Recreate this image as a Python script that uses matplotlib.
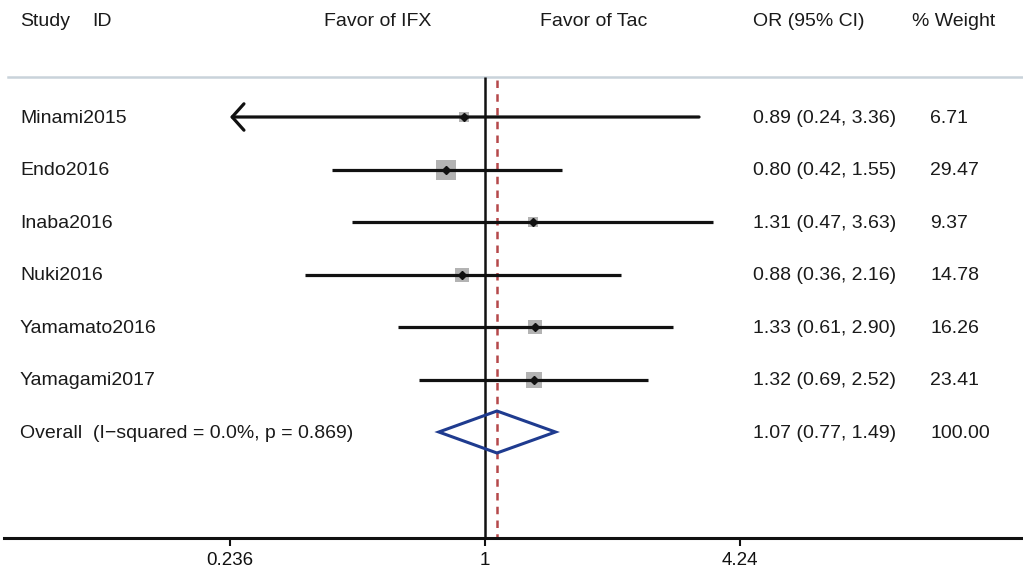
import numpy as np
import matplotlib
matplotlib.use("Agg")
import matplotlib.pyplot as plt
from matplotlib.patches import Polygon
import matplotlib.transforms as mtransforms

# ---- data ----
studies = ["Minami2015", "Endo2016", "Inaba2016", "Nuki2016", "Yamamato2016", "Yamagami2017"]
or_est = [0.89, 0.80, 1.31, 0.88, 1.33, 1.32]
ci_low = [0.24, 0.42, 0.47, 0.36, 0.61, 0.69]
ci_high = [3.36, 1.55, 3.63, 2.16, 2.90, 2.52]
weights = [6.71, 29.47, 9.37, 14.78, 16.26, 23.41]
truncated_low = [True, False, False, False, False, False]
overall_label = "Overall  (I\u2212squared = 0.0%, p = 0.869)"
overall_est, overall_low, overall_high, overall_weight = 1.07, 0.77, 1.49, 100.00
xticks = [0.236, 1, 4.24]
xtick_labels = ["0.236", "1", "4.24"]

plt.rcParams['font.family'] = ['Liberation Sans', 'DejaVu Sans']
TXT = "#1a1a1a"
FS = 14

W, H = 1023, 573
fig = plt.figure(figsize=(W / 100, H / 100), dpi=100)
fig.patch.set_facecolor("white")
ax = fig.add_axes([4 / W, 35 / H, 1 - 4 / W, 538 / H])
ax.set_xscale("log")
pxu = 176.6  # pixels per ln unit
ax.set_xlim(np.exp((4 - 485) / pxu), np.exp((1023 - 485) / pxu))
row_h = 52.5
def ypix(p):
    return (p - 117) / row_h
ax.set_ylim(ypix(538), ypix(0))
ax.set_facecolor("white")
for s in ["top", "left", "right"]:
    ax.spines[s].set_visible(False)
ax.spines["bottom"].set_linewidth(2.2)
ax.spines["bottom"].set_color("#111111")
ax.set_yticks([])
ax.set_xticks(xticks)
ax.set_xticklabels(xtick_labels, fontsize=13.5, color=TXT)
ax.xaxis.set_minor_locator(matplotlib.ticker.NullLocator())
ax.tick_params(axis="x", direction="out", length=6, width=1.5, pad=4, colors="#111111")

blend = mtransforms.blended_transform_factory(ax.transAxes, ax.transData)
def fx(p):
    return (p - 4) / (W - 4)

# header
hy = ypix(22)
ax.text(fx(20), hy, "Study", transform=blend, fontsize=FS, color=TXT, va="center")
ax.text(fx(92), hy, "ID", transform=blend, fontsize=FS, color=TXT, va="center")
ax.text(fx(378), hy, "Favor of IFX", transform=blend, fontsize=FS, color=TXT, va="center", ha="center")
ax.text(fx(594), hy, "Favor of Tac", transform=blend, fontsize=FS, color=TXT, va="center", ha="center")
ax.text(fx(753), hy, "OR (95% CI)", transform=blend, fontsize=FS, color=TXT, va="center")
ax.text(fx(912), hy, "% Weight", transform=blend, fontsize=FS, color=TXT, va="center")
ax.axhline(ypix(77), xmin=fx(8), xmax=1, color="#c9d3da", lw=1.8)

# reference lines
ax.vlines(1, ypix(77), ypix(538), color="#111111", lw=1.8, zorder=2)
ax.vlines(overall_est, ypix(80), ypix(538), color="#b5484a", lw=1.8,
          linestyles=(0, (3, 2.5)), zorder=2)

xmin_tick = xticks[0]
for i, (name, e, lo, hi, w, tr) in enumerate(zip(studies, or_est, ci_low, ci_high, weights, truncated_low)):
    y = i
    side_px = 3.5 * np.sqrt(w)
    ax.plot([e], [y], marker="s", markersize=side_px * 0.72, color="#b3b3b3",
            markeredgewidth=0, zorder=3)
    if tr:
        ax.annotate("", xy=(xmin_tick, y), xytext=(hi, y),
                    arrowprops=dict(arrowstyle="->,head_length=0.85,head_width=0.95",
                                    lw=2.3, color="#111111", shrinkA=0, shrinkB=0),
                    zorder=4)
    else:
        ax.plot([lo, hi], [y, y], color="#111111", lw=2.3, solid_capstyle="butt", zorder=4)
    ax.plot([e], [y], marker="D", markersize=4, color="#111111", zorder=5)
    ax.text(fx(20), y + 0.02, name, transform=blend, fontsize=FS, color=TXT, va="center")
    ax.text(fx(753), y + 0.02, f"{e:.2f} ({lo:.2f}, {hi:.2f})", transform=blend, fontsize=FS, color=TXT, va="center")
    ax.text(fx(930), y + 0.02, f"{w:.2f}", transform=blend, fontsize=FS, color=TXT, va="center")

yo = len(studies)
hh = 21 / row_h
diamond = Polygon([[overall_low, yo], [overall_est, yo - hh], [overall_high, yo], [overall_est, yo + hh]],
                  closed=True, fill=False, edgecolor="#1f3b8f", lw=2.2, zorder=6)
ax.add_patch(diamond)
ax.text(fx(20), yo + 0.02, overall_label, transform=blend, fontsize=FS, color=TXT, va="center")
ax.text(fx(753), yo + 0.02, f"{overall_est:.2f} ({overall_low:.2f}, {overall_high:.2f})", transform=blend,
        fontsize=FS, color=TXT, va="center")
ax.text(fx(930), yo + 0.02, f"{overall_weight:.2f}", transform=blend, fontsize=FS, color=TXT, va="center")

fig.savefig("out.png", dpi=100, facecolor="white")
